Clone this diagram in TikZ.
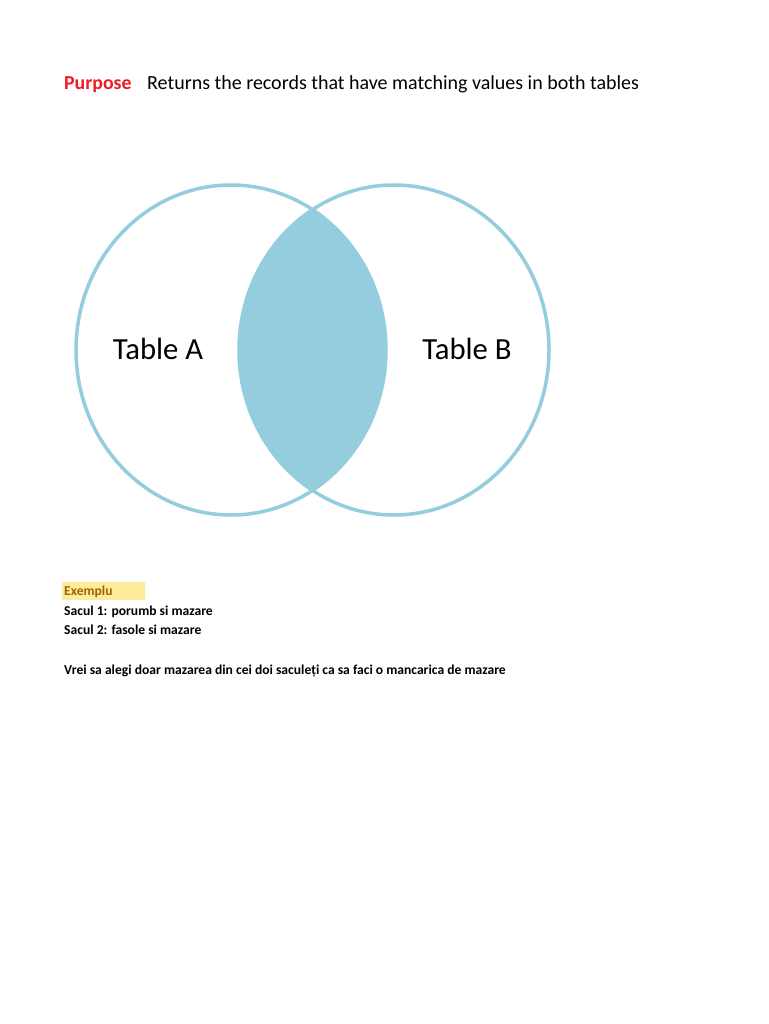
\documentclass[tikz,border=0pt]{standalone}
\usepackage{fontspec}
\setmainfont{Carlito}
\definecolor{vblue}{RGB}{148,205,221}
\definecolor{purp}{RGB}{237,28,36}
\definecolor{exfill}{RGB}{255,235,156}
\definecolor{extext}{RGB}{156,101,0}
\tikzset{
  vring/.style={draw=vblue,line width=3.5pt},
  small/.style={anchor=west,inner sep=0pt,font=\fontsize{13.6}{16}\selectfont\bfseries},
  tlabel/.style={font=\fontsize{30.7}{36}\selectfont}
}
\begin{document}
\begin{tikzpicture}[x=1pt,y=-1pt]
\useasboundingbox (0,0) rectangle (768,1024);
\fill[white] (0,0) rectangle (768,1024);
% lens
\begin{scope}
  \clip (231,350) ellipse [x radius=155,y radius=165];
  \fill[vblue] (394,350) ellipse [x radius=155,y radius=165];
\end{scope}
\draw[vring] (231,350) ellipse [x radius=155,y radius=165];
\draw[vring] (394,350) ellipse [x radius=155,y radius=165];
\node[tlabel] (ta) at (158,349) {Table A};
\node[tlabel] (tb) at (467,349) {Table B};
% title
\node[anchor=base west,inner sep=0pt,text=purp,font=\fontsize{19.8}{24}\selectfont\bfseries] (pur) at (64,90) {Purpose};
\node[anchor=base west,inner sep=0pt,font=\fontsize{20}{24}\selectfont] (ret) at (147,90) {Returns the records that have matching values in both tables};
% example
\fill[exfill] (62,582) rectangle (145,600);
\node[small,text=extext,anchor=base west] (ex) at (64,595) {Exemplu};
\node[small,anchor=base west] (s1) at (64,615) {Sacul 1: porumb si mazare};
\node[small,anchor=base west] (s2) at (64,634) {Sacul 2: fasole si mazare};
\node[small,anchor=base west] (vr) at (64,674) {Vrei sa alegi doar mazarea din cei doi saculeți ca sa faci o mancarica de mazare};
\end{tikzpicture}
\end{document}
